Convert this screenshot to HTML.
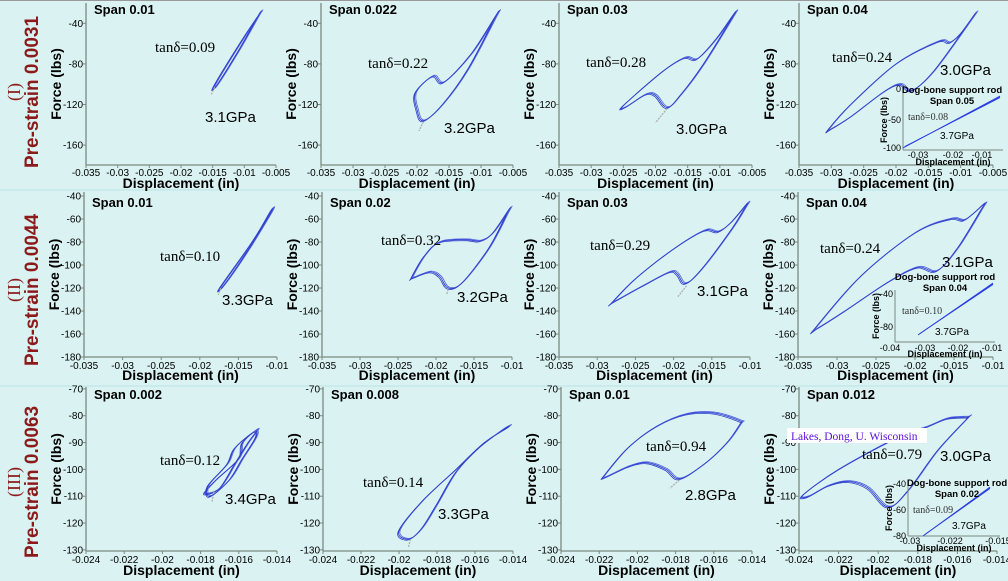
<!DOCTYPE html>
<html><head><meta charset="utf-8"><style>
html,body{margin:0;padding:0;background:#daf2f2;}
svg{display:block;font-family:"Liberation Sans",sans-serif;}
</style></head><body>
<svg id="s" width="1008" height="581" xmlns="http://www.w3.org/2000/svg"></svg>
<script>
const S=document.getElementById('s');let h='';
h+='<rect width="1008" height="581" fill="#daf2f2"/><line x1="0" y1="0.5" x2="1008" y2="0.5" stroke="#999"/>';
h+='<line x1="0" y1="190" x2="1008" y2="190" stroke="#b8e4e4"/><line x1="0" y1="386" x2="1008" y2="386" stroke="#b8e4e4"/>';
function T(x,y,t,o){o=o||{};h+=`<text x="${x}" y="${y}" font-size="${o.s||10}" ${o.b?'font-weight="bold"':''} text-anchor="${o.a||'start'}" fill="${o.c||'#000'}" ${o.f?`font-family="${o.f}"`:''} ${o.r?`transform="rotate(-90 ${x} ${y})"`:''}>${t}</text>`;}
function cr(p){let d=`M${p[0][0].toFixed(1)},${p[0][1].toFixed(1)}`;const n=p.length;for(let i=0;i<n;i++){const p0=p[(i-1+n)%n],p1=p[i],p2=p[(i+1)%n],p3=p[(i+2)%n];d+=`C${(p1[0]+(p2[0]-p0[0])/6).toFixed(1)},${(p1[1]+(p2[1]-p0[1])/6).toFixed(1)} ${(p2[0]-(p3[0]-p1[0])/6).toFixed(1)},${(p2[1]-(p3[1]-p1[1])/6).toFixed(1)} ${p2[0].toFixed(1)},${p2[1].toFixed(1)}`;}return d+'Z';}
const rows=[
 {top:3,y0:-20,ys:40/40.6,yb:165,lab:[-40,-80,-120,-160],sy:14,xl:173,dl:188},
 {top:192,y0:-36.5,ys:140/161,yb:357,lab:[-40,-60,-80,-100,-120,-140,-160,-180],sy:207,xl:366,dl:380},
 {top:387,y0:-69.3,ys:60/161,yb:551,lab:[-70,-80,-90,-100,-110,-120,-130],sy:399,xl:560,dl:575}];
function panel(r,ax,W,x0,x1,step,dec,span){
 const R=rows[r];const X=v=>ax+(v-x0)/(x1-x0)*W;const Y=v=>R.top+(R.y0-v)/R.ys;
 h+=`<line x1="${ax}" y1="${R.top}" x2="${ax}" y2="${R.yb}" stroke="#7a8a80" stroke-width="1.3"/><line x1="${ax}" y1="${R.yb}" x2="${ax+W}" y2="${R.yb}" stroke="#7a8a80" stroke-width="1.3"/>`;
 R.lab.forEach(v=>{const y=Y(v);h+=`<line x1="${ax-3}" y1="${y}" x2="${ax}" y2="${y}" stroke="#7a8a80"/>`;T(ax-3,y+3.5,v,{a:'end'});});
 for(let v=x0;v<=x1+1e-9;v+=step){const x=X(v);h+=`<line x1="${x}" y1="${R.yb}" x2="${x}" y2="${R.yb+3}" stroke="#7a8a80"/>`;T(x,R.xl+3,(+v.toFixed(dec)).toString(),{a:'middle'});}
 T(ax+W/2,R.dl,'Displacement (in)',{s:14,b:1,a:'middle'});
 T(ax-25,(R.top+R.yb)/2,'Force (lbs)',{s:14,b:1,a:'middle',r:1});
 T(ax+8,R.sy,'Span '+span,{s:13,b:1});
 return {X,Y};
}
function loop(P,pts,arrow){const p=pts.map(q=>[P.X(q[0]),P.Y(q[1])]);
 [[0,0,'#2030d0'],[1.2,-0.8,'#5060e0'],[-1,1,'#3040c8']].forEach(o=>{h+=`<path d="${cr(p.map(q=>[q[0]+o[0],q[1]+o[1]]))}" fill="none" stroke="${o[2]}" stroke-width="0.8"/>`;});
 if(arrow){h+=`<line x1="${P.X(arrow[0])}" y1="${P.Y(arrow[1])}" x2="${P.X(arrow[2])}" y2="${P.Y(arrow[3])}" stroke="#aaa" stroke-width="1.2" stroke-dasharray="2,1"/>`;}}
function ann(x,y,t,g,gx,gy){T(x,y,'tan&#948;='+t,{s:15,f:'Liberation Serif'});T(gx,gy,g,{s:15});}
[['(I)','Pre-strain 0.0031',92],['(II)','Pre-strain 0.0044',290],['(III)','Pre-strain 0.0063',482]].forEach(a=>{T(20,a[2],a[0],{s:18,a:'middle',r:1,c:'#8b1a1a',f:'Liberation Serif'});T(38,a[2],a[1],{s:19,b:1,a:'middle',r:1,c:'#8b1a1a'});});
let P;
P=panel(0,86,190,-0.035,-0.005,0.005,3,'0.01');loop(P,[[-0.0075,-30],[-0.0105,-58],[-0.0147,-101],[-0.0142,-100],[-0.0108,-66],[-0.0078,-33]],[-0.0147,-103,-0.0152,-110]);ann(155,52,'0.09','3.1GPa',205,122);
P=panel(0,321,192,-0.035,-0.005,0.005,3,'0.022');loop(P,[[-0.0075,-31],[-0.0115,-70],[-0.0158,-98],[-0.0175,-92],[-0.0202,-108],[-0.0200,-125],[-0.0190,-136],[-0.0160,-120],[-0.0120,-85],[-0.0078,-35]],[-0.019,-137,-0.0197,-146]);ann(368,68,'0.22','3.2GPa',444,133);
P=panel(0,559,193,-0.035,-0.005,0.005,3,'0.03');loop(P,[[-0.0077,-30],[-0.0105,-55],[-0.0135,-75],[-0.0155,-74],[-0.019,-88],[-0.025,-121],[-0.0245,-122],[-0.0215,-110],[-0.0200,-111],[-0.0182,-123],[-0.016,-110],[-0.0125,-80],[-0.0080,-34]],[-0.0182,-124,-0.020,-138]);ann(586,67,'0.28','3.0GPa',676,134);
P=panel(0,799,194,-0.035,-0.005,0.005,3,'0.04');loop(P,[[-0.0078,-31],[-0.0100,-50],[-0.0117,-59],[-0.0135,-58],[-0.020,-80],[-0.027,-120],[-0.0305,-145],[-0.030,-144],[-0.027,-132],[-0.022,-108],[-0.0194,-100],[-0.0175,-106],[-0.014,-86],[-0.0082,-35]]);ann(832,62,'0.24','3.0GPa',940,75);
function inset(ax,top,bot,right,yl,xl,xlY,line,tt,ty,span,tan,tx,tyy,gx,gy){
 h+=`<line x1="${ax}" y1="${top}" x2="${ax}" y2="${bot}" stroke="#7a8a80"/><line x1="${ax}" y1="${bot}" x2="${right}" y2="${bot}" stroke="#7a8a80"/>`;
 yl.forEach(a=>T(ax-2,a[1]+3,a[0],{s:9,a:'end'}));xl.forEach(a=>T(a[1],xlY,a[0],{s:9,a:'middle'}));
 for(let k=0;k<3;k++)h+=`<line x1="${line[0]+k}" y1="${line[1]-k*0.8}" x2="${line[2]}" y2="${line[3]+k*0.8}" stroke="#2a3de0" stroke-width="0.8"/>`;
 T(tt,ty,'Dog-bone support rod',{s:9.5,b:1,a:'middle'});T(tt,ty+11,'Span '+span,{s:9.5,b:1,a:'middle'});
 T(tx,tyy,'tan&#948;='+tan,{s:10,f:'Liberation Serif',c:'#333'});T(gx,gy,'3.7GPa',{s:10});
 T(ax-16,(top+bot)/2,'Force (lbs)',{s:9,b:1,a:'middle',r:1});T((ax+right)/2,bot+15,'Displacement (in)',{s:9,b:1,a:'middle'});}
inset(903,90,150,1003,[[0,89],[-50,120],[-100,148]],[[-0.03,918],[-0.02,953],[-0.01,982]],158,[903,148,1000,96],952,93,'0.05','0.08',908,120,940,139);
P=panel(1,84,193,-0.035,-0.01,0.005,3,'0.01');loop(P,[[-0.0107,-52],[-0.013,-78],[-0.0173,-119],[-0.0168,-117],[-0.014,-90],[-0.0109,-56]],[-0.0173,-120,-0.0176,-126]);ann(160,261,'0.10','3.3GPa',222,305);
P=panel(1,322,190,-0.035,-0.01,0.005,3,'0.02');loop(P,[[-0.0103,-51],[-0.0125,-72],[-0.0142,-79],[-0.016,-78],[-0.0195,-80],[-0.0215,-92],[-0.0232,-111],[-0.023,-111],[-0.0208,-106],[-0.0195,-110],[-0.0184,-120],[-0.0165,-115],[-0.0130,-85],[-0.0106,-55]],[-0.0184,-121,-0.0186,-126]);ann(381,245,'0.32','3.2GPa',457,302);
P=panel(1,559,191,-0.035,-0.01,0.005,3,'0.03');loop(P,[[-0.0103,-46],[-0.0125,-63],[-0.0142,-71],[-0.016,-70],[-0.020,-86],[-0.025,-112],[-0.0281,-133],[-0.0278,-132],[-0.024,-118],[-0.0205,-106],[-0.0195,-108],[-0.0185,-116],[-0.0165,-105],[-0.0125,-70],[-0.0106,-50]],[-0.0183,-118,-0.0195,-128]);ann(590,250,'0.29','3.1GPa',697,296);
P=panel(1,798,195,-0.035,-0.01,0.005,3,'0.04');loop(P,[[-0.011,-46],[-0.0125,-55],[-0.0138,-61],[-0.0155,-60],[-0.020,-72],[-0.027,-110],[-0.0328,-155],[-0.0325,-155],[-0.029,-140],[-0.0235,-115],[-0.0197,-102],[-0.0172,-105],[-0.0145,-85],[-0.0115,-52]]);ann(820,253,'0.24','3.1GPa',942,267);
inset(895,290,342,995,[[-40,294],[-80,327]],[[-0.04,890],[-0.03,925],[-0.02,958],[-0.01,992]],351,[918,335,993,283],945,280,'0.04','0.10',902,314,935,335);
P=panel(2,86,191,-0.024,-0.014,0.002,3,'0.002');loop(P,[[-0.015,-85],[-0.0158,-90],[-0.016,-96],[-0.0172,-104],[-0.0178,-109],[-0.0170,-107],[-0.0162,-98],[-0.0155,-90]],[-0.0173,-108,-0.0174,-112]);
loop(P,[[-0.0152,-86],[-0.0162,-92],[-0.0166,-98],[-0.0176,-106],[-0.0175,-110],[-0.0165,-104],[-0.0158,-96],[-0.0151,-88]]);ann(160,465,'0.12','3.4GPa',225,504);
P=panel(2,323,190,-0.024,-0.014,0.002,3,'0.008');loop(P,[[-0.0142,-84],[-0.0155,-90],[-0.017,-100],[-0.0188,-112],[-0.0200,-123],[-0.0195,-126],[-0.0188,-122],[-0.0180,-113],[-0.0170,-101],[-0.0158,-92],[-0.0145,-85]],[-0.0194,-126,-0.0195,-129]);ann(363,487,'0.14','3.3GPa',438,519);
P=panel(2,561,191,-0.024,-0.014,0.002,3,'0.01');loop(P,[[-0.0146,-82],[-0.0160,-79],[-0.0175,-79.5],[-0.019,-84],[-0.0205,-92],[-0.0217,-102],[-0.0217,-103],[-0.0205,-99],[-0.0195,-97.5],[-0.0185,-100],[-0.0178,-103.5],[-0.0165,-98],[-0.0153,-90],[-0.0146,-83]],[-0.0178,-104,-0.0183,-107]);ann(646,451,'0.94','2.8GPa',685,500);
P=panel(2,799,198,-0.024,-0.014,0.002,3,'0.012');loop(P,[[-0.0155,-80.5],[-0.0165,-81],[-0.0175,-84],[-0.019,-88],[-0.022,-100],[-0.0238,-109.5],[-0.0235,-110],[-0.0225,-106],[-0.0215,-104.5],[-0.0205,-107],[-0.0195,-114],[-0.0185,-108],[-0.017,-93],[-0.0155,-81]]);ann(862,459,'0.79','3.0GPa',940,461);
inset(908,480,536,1000,[[-40,484],[-60,510],[-80,536]],[[-0.03,910],[-0.022,950],[-0.015,998]],544,[923,536,990,487],957,486,'0.02','0.09',913,513,952,529);
h+='<rect x="787" y="428" width="140" height="15" fill="#fff"/>';T(791,440,'Lakes, Dong, U. Wisconsin',{s:11.5,f:'Liberation Serif',c:'#5a10e0'});
S.innerHTML=h;
</script>
</body></html>
